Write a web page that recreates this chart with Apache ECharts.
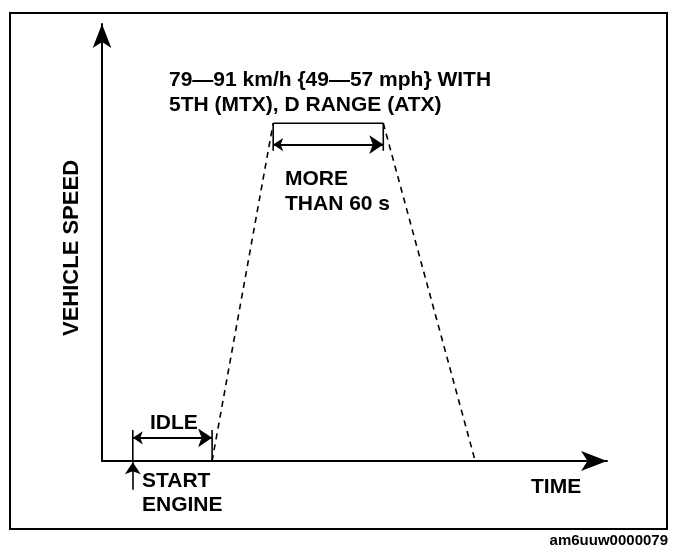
<!DOCTYPE html>
<html>
<head>
<meta charset="utf-8">
<script src="https://cdn.jsdelivr.net/npm/echarts@6/dist/echarts.min.js"></script>
<style>html,body{margin:0;padding:0;background:#fff}#c{width:688px;height:552px}</style>
</head>
<body>
<div id="c"></div>
<script>
// Profile key points (time in arbitrary units 0-100, speed in % of axis 0-100)
const phaseNames = ['start engine', 'idle end', 'reach speed', 'hold end', 'stop'];
const phaseTimes = [6.1, 21.8, 33.9, 55.7, 73.9];
const phaseSpeeds = [0, 0, 77.3, 77.3, 0];
const bracketHeights = { idleTick: 7.1, idleArrow: 5.3, holdTick: 71.0, holdArrow: 72.4, startArrowBottom: -6.6, startArrowTop: -0.3 };
const textLines = {
  speed: ['79\u201491 km/h {49\u201457 mph} WITH', '5TH (MTX), D RANGE (ATX)'],
  hold: ['MORE', 'THAN 60 s'],
  idle: 'IDLE',
  start: ['START', 'ENGINE'],
  xName: 'TIME',
  yName: 'VEHICLE SPEED',
  code: 'am6uuw0000079'
};

const chart = echarts.init(document.getElementById('c'), null, { renderer: 'canvas' });
const FONT = '"Liberation Sans", Arial, sans-serif';
const TF = 'bold 21px ' + FONT;
const lineStyleBase = { color: '#000', width: 1.6 };

function seg(a, b) { return [[a[0], a[1]], [b[0], b[1]]]; }
const P = phaseTimes.map((t, i) => [t, phaseSpeeds[i]]);

const option = {
  animation: false,
  backgroundColor: '#fff',
  grid: { left: 102, right: 81, top: 24, bottom: 91, containLabel: false },
  xAxis: {
    type: 'value', min: 0, max: 100,
    axisLine: { show: true, lineStyle: { color: '#000', width: 2 }, symbol: ['none', 'arrow'], symbolSize: [15, 26] },
    axisTick: { show: false }, axisLabel: { show: false }, splitLine: { show: false }
  },
  yAxis: {
    type: 'value', min: 0, max: 100,
    axisLine: { show: true, lineStyle: { color: '#000', width: 2 }, symbol: ['none', 'arrow'], symbolSize: [14, 24] },
    axisTick: { show: false }, axisLabel: { show: false }, splitLine: { show: false }
  },
  series: [
    { type: 'line', data: seg(P[1], P[2]), symbol: 'none', lineStyle: Object.assign({}, lineStyleBase, { type: [6, 5] }) },
    { type: 'line', data: seg(P[2], P[3]), symbol: 'none', lineStyle: lineStyleBase },
    { type: 'line', data: seg(P[3], P[4]), symbol: 'none', lineStyle: Object.assign({}, lineStyleBase, { type: [6, 5] }) },
    { type: 'line', data: [[P[0][0], 0], [P[0][0], bracketHeights.idleTick]], symbol: 'none', lineStyle: lineStyleBase },
    { type: 'line', data: [[P[1][0], 0], [P[1][0], bracketHeights.idleTick]], symbol: 'none', lineStyle: lineStyleBase },
    { type: 'line', data: [[P[2][0], P[2][1]], [P[2][0], bracketHeights.holdTick]], symbol: 'none', lineStyle: lineStyleBase },
    { type: 'line', data: [[P[3][0], P[3][1]], [P[3][0], bracketHeights.holdTick]], symbol: 'none', lineStyle: lineStyleBase },
    {
      type: 'lines', coordinateSystem: 'cartesian2d', clip: false,
      symbol: ['arrow', 'arrow'], symbolSize: [10, 14],
      lineStyle: { color: '#000', width: 2, opacity: 1, curveness: 0 },
      data: [
        { coords: [[P[0][0], bracketHeights.idleArrow], [P[1][0], bracketHeights.idleArrow]] },
        { coords: [[P[2][0], bracketHeights.holdArrow], [P[3][0], bracketHeights.holdArrow]] }
      ]
    },
    {
      type: 'lines', coordinateSystem: 'cartesian2d', clip: false,
      symbol: ['none', 'arrow'], symbolSize: [8, 12],
      lineStyle: { color: '#000', width: 1.6, opacity: 1 },
      data: [{ coords: [[P[0][0], bracketHeights.startArrowBottom], [P[0][0], bracketHeights.startArrowTop]] }]
    }
  ],
  graphic: [
    { type: 'rect', shape: { x: 10, y: 13, width: 657, height: 516 }, style: { fill: 'none', stroke: '#000', lineWidth: 2 } },
    { type: 'text', x: 72, y: 248, rotation: Math.PI / 2, style: { text: textLines.yName, font: 'bold 22px ' + FONT, fill: '#000', align: 'center', verticalAlign: 'middle' } },
    { type: 'text', left: 169, top: 68, style: { text: textLines.speed.join('\n'), font: TF, fill: '#000', lineHeight: 25 } },
    { type: 'text', left: 285, top: 167, style: { text: textLines.hold.join('\n'), font: TF, fill: '#000', lineHeight: 25 } },
    { type: 'text', left: 150, top: 413, style: { text: textLines.idle, font: TF, fill: '#000' } },
    { type: 'text', left: 142, top: 469, style: { text: textLines.start.join('\n'), font: TF, fill: '#000', lineHeight: 24 } },
    { type: 'text', left: 531, top: 477, style: { text: textLines.xName, font: TF, fill: '#000' } },
    { type: 'text', right: 20, top: 533, style: { text: textLines.code, font: 'bold 15px ' + FONT, fill: '#000' } }
  ]
};
chart.setOption(option);
</script>
</body>
</html>
